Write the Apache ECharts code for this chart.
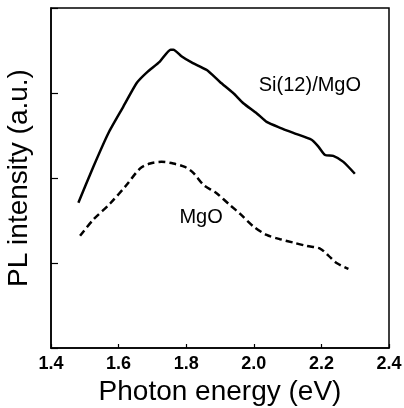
<!DOCTYPE html>
<html>
<head>
<meta charset="utf-8">
<script src="https://cdn.jsdelivr.net/npm/echarts@6/dist/echarts.min.js"></script>
<style>
  html, body { margin: 0; padding: 0; background: #fff; }
  #chart { width: 404px; height: 408px; }
</style>
</head>
<body>
<div id="chart"></div>
<script>
// photon energy (eV) / PL intensity (a.u.)
var siEnergy = [1.481, 1.525, 1.570, 1.614, 1.654, 1.683, 1.722, 1.754, 1.762, 1.787, 1.816, 1.861, 1.900, 1.939, 1.969, 2.009, 2.038, 2.078, 2.117, 2.171, 2.191, 2.211, 2.235, 2.265, 2.299];
var siPL     = [1.71, 2.13, 2.53, 2.84, 3.12, 3.24, 3.37, 3.51, 3.51, 3.43, 3.36, 3.27, 3.13, 3.00, 2.88, 2.76, 2.66, 2.59, 2.53, 2.45, 2.37, 2.27, 2.26, 2.19, 2.05];

var mgoEnergy = [1.486, 1.525, 1.575, 1.624, 1.663, 1.693, 1.727, 1.762, 1.796, 1.821, 1.851, 1.890, 1.930, 1.959, 1.999, 2.038, 2.078, 2.117, 2.157, 2.196, 2.220, 2.245, 2.280];
var mgoPL     = [1.32, 1.51, 1.70, 1.92, 2.11, 2.17, 2.19, 2.17, 2.13, 2.06, 1.92, 1.82, 1.68, 1.58, 1.43, 1.33, 1.28, 1.24, 1.20, 1.17, 1.09, 1.00, 0.93];

var xTicks = [1.4, 1.6, 1.8, 2.0, 2.2, 2.4];

function pairs(xs, ys) {
    var out = [];
    for (var i = 0; i < xs.length; i++) out.push([xs[i], ys[i]]);
    return out;
}

var font = 'Liberation Sans';
var chart = echarts.init(document.getElementById('chart'));

// curve labels, anchored in data units
function curveLabel(text, x, y) {
    return {
        symbol: 'circle',
        symbolSize: 0,
        silent: true,
        label: {
            show: true, position: 'inside', color: '#000',
            fontSize: 20, fontFamily: font, formatter: text
        },
        data: [{ coord: [x, y] }]
    };
}

var option = {
    animation: false,
    grid: {
        left: 51, right: 15, top: 8, bottom: 60,
        outerBoundsMode: 'none',
        containLabel: false,
        show: true, borderColor: '#000', borderWidth: 1.5
    },
    xAxis: {
        type: 'value',
        min: xTicks[0],
        max: xTicks[xTicks.length - 1],
        interval: 0.2,
        name: 'Photon energy (eV)',
        nameLocation: 'middle',
        nameGap: 28,
        nameTextStyle: { color: '#000', fontSize: 28, fontFamily: font },
        axisLine: { lineStyle: { color: '#000', width: 1.5 } },
        axisTick: { inside: true, length: 4, lineStyle: { color: '#000', width: 1.2 } },
        axisLabel: {
            color: '#000', fontSize: 18, fontWeight: 'bold', fontFamily: font, margin: 7,
            formatter: function (v) { return v.toFixed(1); }
        },
        splitLine: { show: false }
    },
    yAxis: {
        type: 'value',
        min: 0, max: 4, interval: 1,
        name: 'PL intensity (a.u.)',
        nameLocation: 'middle',
        nameGap: 18,
        nameTextStyle: { color: '#000', fontSize: 28, fontFamily: font },
        axisLine: { show: true, lineStyle: { color: '#000', width: 1.5 } },
        axisTick: { inside: true, length: 7, lineStyle: { color: '#000', width: 1.2 } },
        axisLabel: { show: false },
        splitLine: { show: false }
    },
    series: [
        {
            name: 'Si(12)/MgO',
            type: 'line',
            data: pairs(siEnergy, siPL),
            smooth: 0.2,
            showSymbol: false,
            lineStyle: { color: '#000', width: 2.5 },
            markPoint: curveLabel('Si(12)/MgO', 2.166, 3.09)
        },
        {
            name: 'MgO',
            type: 'line',
            data: pairs(mgoEnergy, mgoPL),
            smooth: 0.3,
            showSymbol: false,
            lineStyle: { color: '#000', width: 2.5, type: [7, 4] },
            markPoint: curveLabel('MgO', 1.844, 1.53)
        }
    ]
};

chart.setOption(option);
</script>
</body>
</html>
